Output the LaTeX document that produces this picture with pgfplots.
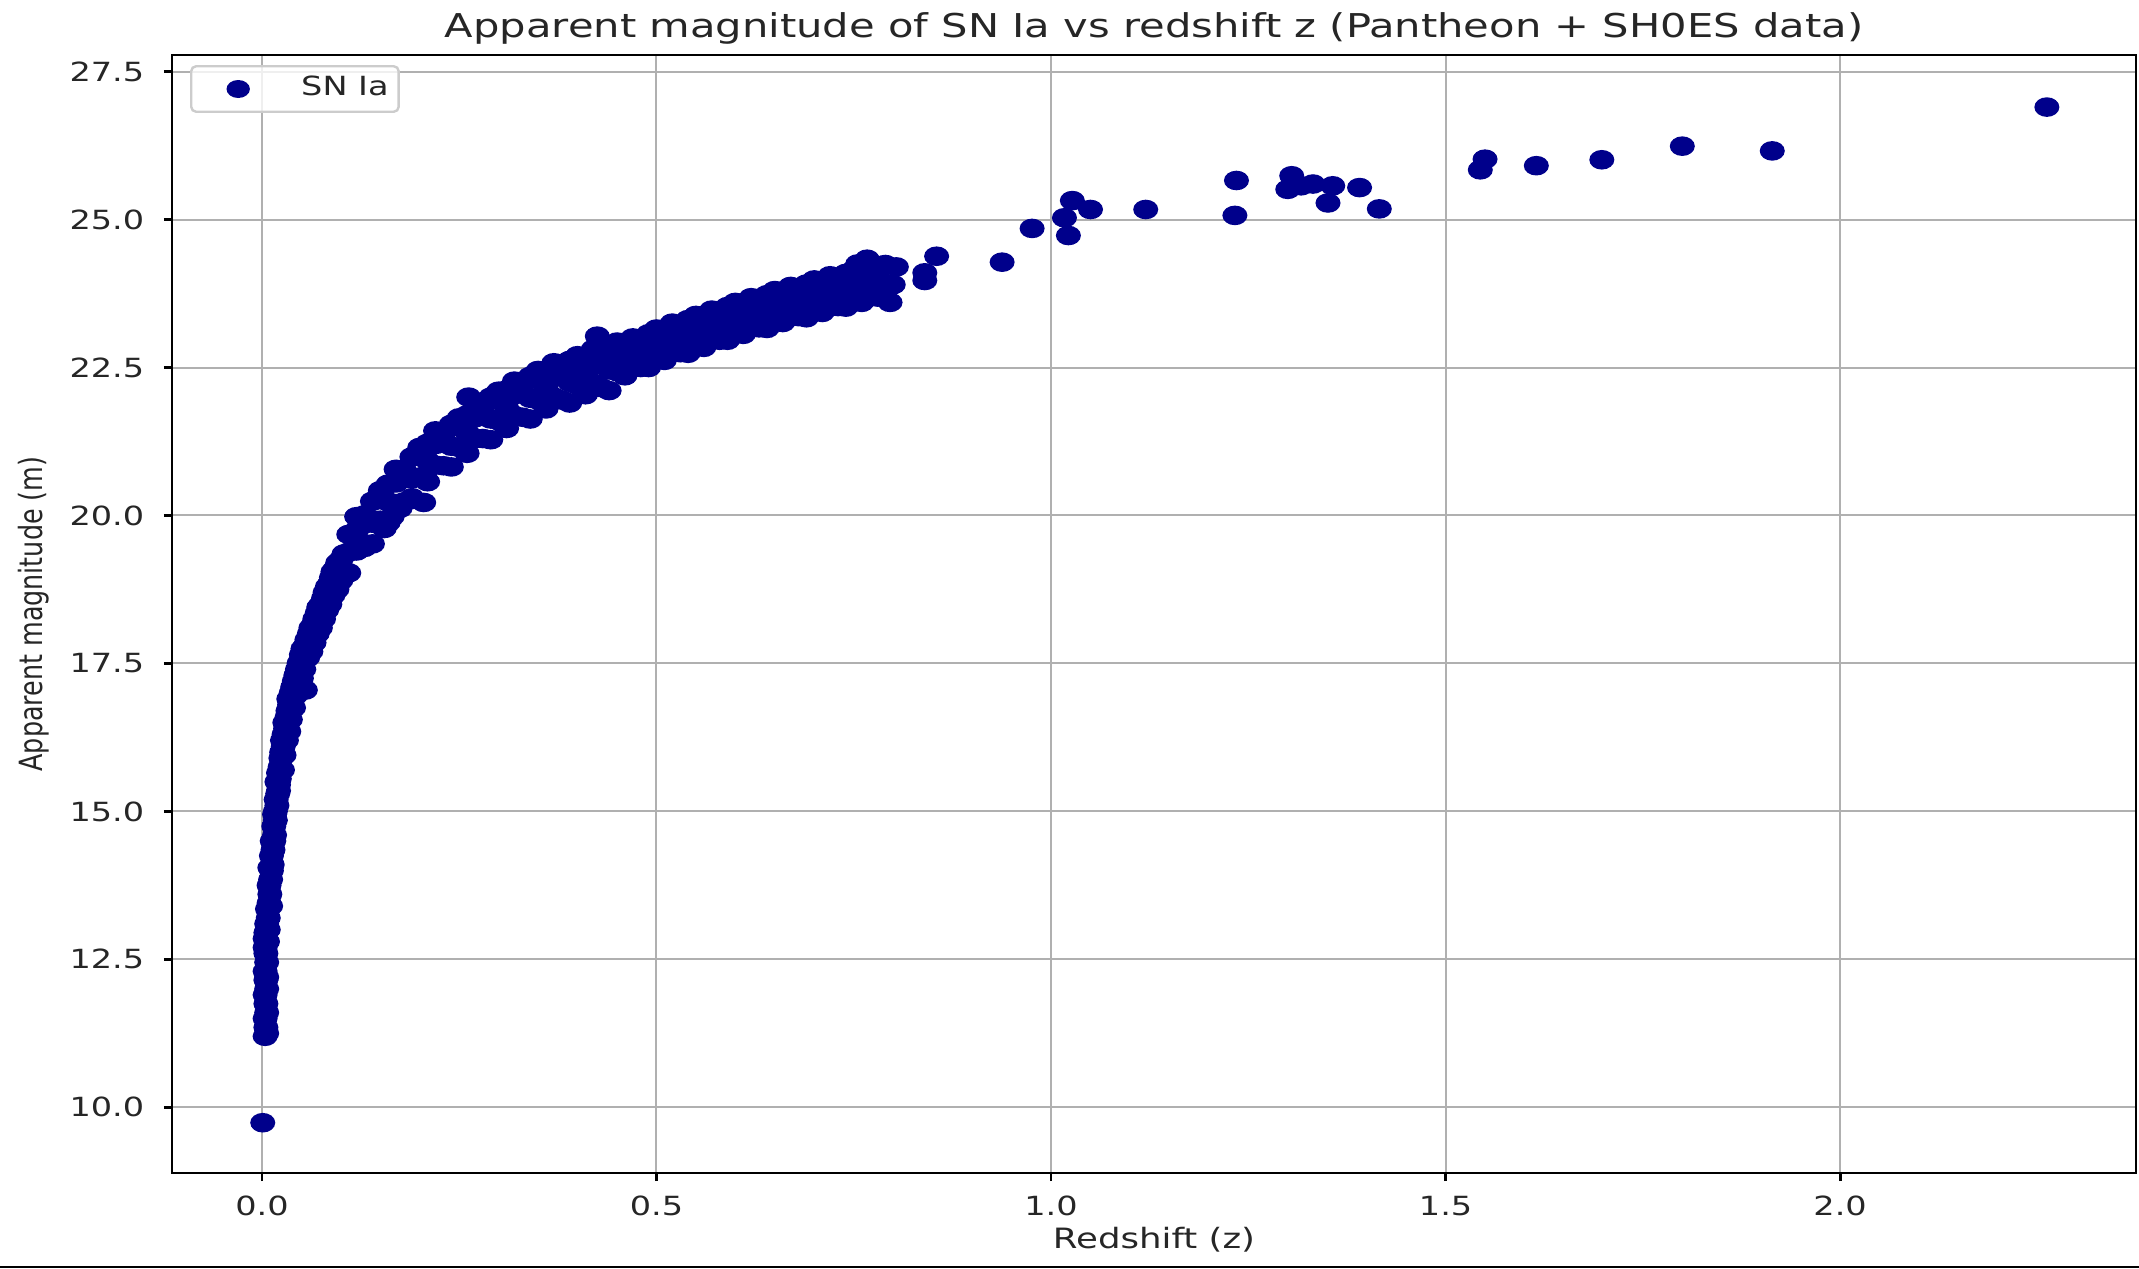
\documentclass[border=0pt]{standalone}
\usepackage{pgfplots}
\pgfplotsset{compat=1.18}
\usepackage{fontspec}
\setmainfont{DejaVu Sans}[FakeStretch=1.27]
\newfontfamily\ylabfont{DejaVu Sans}[FakeStretch=0.794]
\definecolor{snblue}{HTML}{00008B}
\definecolor{gridgray}{HTML}{B0B0B0}
\begin{document}
\begin{tikzpicture}
\useasboundingbox (-43pt,-23.75pt) rectangle (491.75pt,293.25pt);
\fill[black] (-43pt,-23.75pt) rectangle (491.75pt,-23.25pt);
\begin{axis}[
  name=ax, at={(0,0)}, anchor=south west,
  scale only axis, width=491pt, height=279.5pt,
  xmin=-0.114, xmax=2.375, ymin=8.89, ymax=27.78,
  xtick={0,0.5,1,1.5,2}, ytick={10,12.5,15,17.5,20,22.5,25,27.5},
  /pgf/number format/assume math mode=true,
  /pgf/number format/fixed, /pgf/number format/fixed zerofill, /pgf/number format/precision=1,
  tick label style={font=\fontsize{6.6}{7.5}\selectfont, text=black!85},
  every x tick label/.append style={anchor=north, inner sep=0pt, yshift=-3.6pt},
  every y tick label/.append style={anchor=east, inner sep=0pt, xshift=-4.75pt},
  grid=major, major grid style={gridgray, line width=0.5pt},
  axis line style={line width=0.7pt, black},
  major tick style={line width=0.7pt, black},
  tick align=outside, major tick length=2pt,
  xtick pos=bottom, ytick pos=left,
  title={Apparent magnitude of SN Ia vs redshift z (Pantheon + SH0ES data)},
  every axis title/.style={at={(axis description cs:0.5,1.0161)}, anchor=base, inner sep=0pt, font=\fontsize{8.2}{9.5}\selectfont, text=black!85},
  xlabel={Redshift (z)},
  every axis x label/.style={at={(axis description cs:0.5,-0.0671)}, anchor=base, inner sep=0pt, font=\fontsize{7}{8}\selectfont, text=black!85},
  ylabel={Apparent magnitude (m)},
  every axis y label/.style={at={(axis description cs:-0.0657,0.5)}, rotate=90, anchor=base, inner sep=0pt, font=\ylabfont\fontsize{8}{9}\selectfont, text=black!85},
  legend style={at={(axis description cs:0.00917,0.99106)}, anchor=north west,
    draw=black!20, line width=0.6pt, rounded corners=1.25pt, fill=white, fill opacity=0.8, text opacity=1,
    inner xsep=2.5pt, inner ysep=2.5pt, column sep=6.5pt,
    nodes={inner sep=0pt}, font=\fontsize{6.6}{7.5}\selectfont, text=black!85},
  legend image code/.code={\path[draw=none, fill=none] (0,-2.25pt) rectangle (18.5pt,2.25pt);
    \begin{scope}[shift={(9.25pt,0)}, xscale=1.3]\fill[snblue, fill opacity=1, draw=none] (0,0) circle (2.25pt);\end{scope}},
]
\addplot[only marks, mark=*, mark size=2.25pt, color=snblue, mark options={xscale=1.3, fill=snblue, draw=snblue}] coordinates {
(0.001,9.74)
(0.004,11.20) (0.006,11.25) (0.005,11.35) (0.004,11.50) (0.006,11.60) (0.005,11.75) (0.004,11.90) (0.006,12.00) (0.005,12.15) (0.006,12.20)
(0.004,12.30) (0.006,12.45) (0.005,12.60) (0.004,12.70) (0.007,12.80) (0.004,12.85) (0.005,12.95) (0.008,13.00) (0.006,13.10) (0.008,13.20)
(0.007,13.35) (0.011,13.40) (0.009,13.45) (0.010,13.60) (0.009,13.75) (0.011,13.85) (0.012,14.00) (0.010,14.05) (0.013,14.10) (0.012,14.25)
(0.014,14.35) (0.015,14.50) (0.013,14.50) (0.016,14.60) (0.015,14.75) (0.017,14.85) (0.017,15.00) (0.016,14.95) (0.019,15.10) (0.018,15.20)
(0.020,15.30) (0.021,15.35) (0.021,15.45) (0.019,15.50) (0.022,15.55) (0.021,15.65) (0.026,15.70) (0.023,15.75) (0.024,15.90) (0.028,15.95)
(0.025,16.00) (0.027,16.10) (0.026,16.20) (0.031,16.20) (0.028,16.30) (0.034,16.35) (0.030,16.40) (0.029,16.50) (0.036,16.55) (0.032,16.60)
(0.033,16.70) (0.040,16.75) (0.035,16.80) (0.034,16.90) (0.042,16.95) (0.037,17.00) (0.055,17.05) (0.039,17.10) (0.046,17.15) (0.041,17.20)
(0.050,17.25) (0.043,17.30) (0.045,17.40) (0.053,17.40) (0.047,17.50) (0.049,17.55) (0.058,17.60) (0.050,17.65) (0.062,17.70) (0.052,17.75)
(0.055,17.80) (0.066,17.85) (0.057,17.90) (0.060,18.00) (0.070,18.00) (0.062,18.10) (0.074,18.10) (0.065,18.15) (0.067,18.25) (0.078,18.25)
(0.070,18.35) (0.082,18.40) (0.072,18.45) (0.075,18.50) (0.086,18.50) (0.078,18.60) (0.090,18.65) (0.080,18.70) (0.095,18.75) (0.083,18.80)
(0.086,18.85) (0.100,18.90) (0.088,18.95) (0.090,19.05) (0.093,19.10) (0.096,19.20) (0.100,19.25) (0.104,19.35)
(0.11,19.03) (0.11,19.38) (0.11,19.68) (0.12,19.40) (0.12,19.75) (0.12,19.98) (0.13,19.46) (0.13,19.86) (0.13,20.01)
(0.14,19.52) (0.14,19.87) (0.14,20.24) (0.15,19.92) (0.15,20.27) (0.15,20.42) (0.16,19.88) (0.16,20.23) (0.16,20.53)
(0.155,19.78) (0.165,19.98) (0.175,20.12) (0.19,20.30) (0.205,20.22)
(0.17,20.20) (0.17,20.55) (0.17,20.78) (0.18,20.23) (0.18,20.63) (0.18,20.78) (0.19,20.27) (0.19,20.62) (0.19,20.99)
(0.20,20.65) (0.20,21.00) (0.20,21.15) (0.21,20.57) (0.21,20.92) (0.21,21.22) (0.22,20.85) (0.22,21.20) (0.22,21.43)
(0.23,20.84) (0.23,21.24) (0.23,21.39) (0.24,20.82) (0.24,21.17) (0.24,21.54) (0.25,21.15) (0.25,21.50) (0.25,21.65)
(0.26,21.05) (0.26,21.40) (0.26,21.70) (0.262,22.00) (0.27,21.30) (0.27,21.65) (0.27,21.88) (0.28,21.30) (0.28,21.70) (0.28,21.85)
(0.29,21.28) (0.29,21.63) (0.29,22.00) (0.30,21.60) (0.30,21.95) (0.30,22.10) (0.31,21.47) (0.31,21.82) (0.31,22.12)
(0.32,21.69) (0.32,22.04) (0.32,22.27) (0.33,21.66) (0.33,22.06) (0.33,22.21) (0.34,21.63) (0.34,21.98) (0.34,22.35)
(0.35,21.95) (0.35,22.30) (0.35,22.45) (0.36,21.80) (0.36,22.15) (0.36,22.45) (0.37,22.00) (0.37,22.35) (0.37,22.58)
(0.38,21.95) (0.38,22.35) (0.38,22.50) (0.39,21.90) (0.39,22.25) (0.39,22.62) (0.40,22.20) (0.40,22.55) (0.40,22.70)
(0.41,22.04) (0.41,22.39) (0.41,22.69) (0.42,22.23) (0.42,22.58) (0.42,22.81) (0.425,23.03) (0.43,22.16) (0.43,22.56) (0.43,22.71)
(0.44,22.11) (0.44,22.46) (0.44,22.83) (0.45,22.43) (0.45,22.78) (0.45,22.93)
(0.46,22.36) (0.46,22.64) (0.46,22.89) (0.47,22.55) (0.47,22.82) (0.47,23.00) (0.48,22.50) (0.48,22.83) (0.48,22.97)
(0.49,22.50) (0.49,22.75) (0.49,23.07) (0.50,22.73) (0.50,23.00) (0.50,23.15) (0.51,22.62) (0.51,22.90) (0.51,23.15)
(0.52,22.80) (0.52,23.07) (0.52,23.25) (0.53,22.75) (0.53,23.08) (0.53,23.22) (0.54,22.74) (0.54,22.99) (0.54,23.31)
(0.55,22.96) (0.55,23.23) (0.55,23.38) (0.56,22.84) (0.56,23.12) (0.56,23.37) (0.57,23.02) (0.57,23.29) (0.57,23.47)
(0.58,22.96) (0.58,23.29) (0.58,23.43) (0.59,22.96) (0.59,23.21) (0.59,23.53) (0.60,23.18) (0.60,23.45) (0.60,23.60)
(0.61,23.06) (0.61,23.34) (0.61,23.59) (0.62,23.23) (0.62,23.50) (0.62,23.68) (0.63,23.17) (0.63,23.50) (0.63,23.64)
(0.64,23.16) (0.64,23.41) (0.64,23.73) (0.65,23.38) (0.65,23.65) (0.65,23.80) (0.66,23.26) (0.66,23.54) (0.66,23.79)
(0.67,23.42) (0.67,23.69) (0.67,23.87) (0.68,23.36) (0.68,23.69) (0.68,23.83) (0.69,23.34) (0.69,23.59) (0.69,23.91)
(0.70,23.56) (0.70,23.83) (0.70,23.98) (0.71,23.43) (0.71,23.71) (0.71,23.96) (0.72,23.60) (0.72,23.87) (0.72,24.05)
(0.73,23.53) (0.73,23.86) (0.73,24.00) (0.74,23.52) (0.74,23.77) (0.74,24.09) (0.75,23.73) (0.75,24.00) (0.75,24.15) (0.755,24.25)
(0.76,23.60) (0.76,23.88) (0.76,24.13) (0.767,24.33) (0.77,23.76) (0.77,24.03) (0.77,24.21) (0.78,23.69) (0.78,24.02) (0.78,24.16)
(0.79,23.67) (0.79,23.92) (0.79,24.24) (0.796,23.60) (0.804,24.20) (0.80,23.90)
(0.840,24.10) (0.840,23.97) (0.855,24.38) (0.938,24.28) (0.976,24.85) (1.017,25.03) (1.022,24.73) (1.027,25.32) (1.050,25.17)
(1.120,25.17) (1.235,25.66) (1.233,25.07) (1.300,25.51) (1.305,25.74) (1.317,25.57) (1.332,25.60) (1.357,25.57) (1.351,25.28)
(1.391,25.54) (1.416,25.18) (1.544,25.84) (1.550,26.02) (1.615,25.91) (1.698,26.01) (1.800,26.24) (1.914,26.16) (2.262,26.90)
};
\addlegendentry{SN Ia}
\end{axis}
\end{tikzpicture}
\end{document}
